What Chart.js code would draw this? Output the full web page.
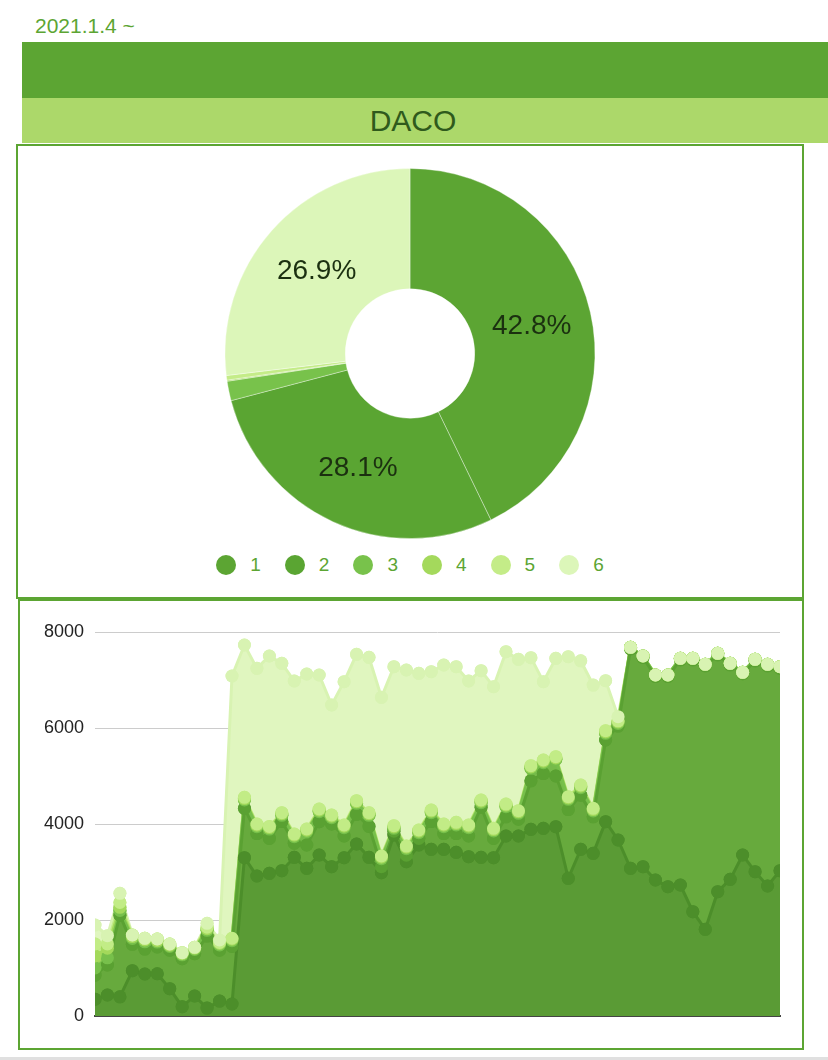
<!DOCTYPE html>
<html>
<head>
<meta charset="utf-8">
<script src="https://cdn.jsdelivr.net/npm/chart.js@4.4.1/dist/chart.umd.min.js"></script>
<style>
  body { margin: 0; background: #fff; font-family: "Liberation Sans", Arial, sans-serif; }
  #page { position: relative; width: 828px; height: 1060px; overflow: hidden; }
  #since { position: absolute; left: 35px; top: 14px; font-size: 21px; line-height: 24px; color: #5ca533; }
  #barTop { position: absolute; left: 22px; top: 42px; width: 806px; height: 56px; background: #5ca533; }
  #barTitle { position: absolute; left: 22px; top: 98px; width: 806px; height: 45px; padding-right: 24px; box-sizing: border-box;
              background: #acd86a; color: #2f5a1c; font-size: 30px; line-height: 45px; text-align: center; }
  .card { position: absolute; border: 2px solid #5ca533; box-sizing: border-box; }
  #pieCard { left: 16px; top: 144px; width: 788px; height: 455px; }
  #lineCard { left: 18px; top: 599px; width: 786px; height: 451px; }
  #pieWrap { position: absolute; left: 0; top: 22px; width: 784px; height: 371px; }
  #lineWrap { position: absolute; left: 0; top: 0; width: 782px; height: 447px; }
  #pieLegend { position: absolute; left: 0; right: 0; top: 409px; height: 20px; display: flex; justify-content: center; gap: 24px; }
  #pieLegend .item { display: inline-flex; align-items: center; font-size: 19px; color: #5ca533; }
  #pieLegend .item i { display: inline-block; width: 20px; height: 20px; border-radius: 50%; margin-right: 14px; }
  #bottomRule { position: absolute; left: 0; top: 1057px; width: 828px; height: 3px; background: #e0e0e0; }
</style>
</head>
<body>
<div id="page">
  <div id="since">2021.1.4 ~</div>
  <div id="barTop"></div>
  <div id="barTitle">DACO</div>
  <div class="card" id="pieCard">
    <div id="pieWrap"><canvas id="pieChart"></canvas></div>
    <div id="pieLegend"></div>
  </div>
  <div class="card" id="lineCard">
    <div id="lineWrap"><canvas id="areaChart"></canvas></div>
  </div>
  <div id="bottomRule"></div>
</div>

<script>
// ---- data ----
const days = [
  "1/4","1/5","1/6","1/7","1/8","1/9","1/10","1/11","1/12","1/13","1/14","1/15","1/16","1/17",
  "1/18","1/19","1/20","1/21","1/22","1/23","1/24","1/25","1/26","1/27","1/28","1/29","1/30","1/31",
  "2/1","2/2","2/3","2/4","2/5","2/6","2/7","2/8","2/9","2/10","2/11","2/12","2/13","2/14",
  "2/15","2/16","2/17","2/18","2/19","2/20","2/21","2/22","2/23","2/24","2/25","2/26","2/27","2/28"
];
const seriesNames = ["1", "2", "3", "4", "5", "6"];

const s1 = [350, 437, 400, 944, 875, 880, 570, 194, 417, 165, 310, 250,
  3299, 2917, 2972, 3028, 3306, 3076, 3354, 3111, 3298, 3583, 3305, 2986, 3771, 3215, 3562, 3472,
  3472, 3409, 3319, 3305, 3298, 3750, 3750, 3889, 3910, 3944, 2868, 3472, 3389, 4048, 3667,
  3076, 3111, 2833, 2694, 2729, 2174, 1805, 2590, 2847, 3354, 3007, 2708, 3027];
const s2 = [500, 625, 1700, 550, 520, 560, 800, 1000, 880, 1500, 1060, 1200,
  1027, 883, 728, 1022, 294, 486, 694, 889, 452, 617, 645, 125, 79, 135, 138, 578,
  328, 391, 431, 1045, 402, 400, 350, 1011, 1140, 1056, 1432, 1128, 761, 1702, 2374,
  4574, 4359, 4241, 4380, 4692, 5247, 5491, 4935, 4470, 3776, 4393, 4588, 4220];
const s3 = [150, 150, 100, 120, 150, 100, 80, 80, 90, 120, 110, 120,
  174, 145, 195, 131, 136, 279, 209, 132, 174, 231, 231, 167, 60, 136, 120, 186,
  145, 179, 174, 95, 154, 211, 123, 260, 228, 347, 214, 157, 121, 139, 54,
  30, 30, 30, 30, 30, 30, 30, 30, 30, 30, 30, 30, 30];
const s4 = [250, 200, 64, 40, 40, 30, 25, 25, 25, 35, 30, 30,
  30, 30, 30, 30, 30, 30, 30, 30, 30, 30, 30, 30, 30, 30, 30, 30,
  30, 30, 30, 30, 30, 30, 30, 30, 30, 30, 30, 30, 30, 30, 30,
  0, 0, 0, 0, 0, 0, 0, 0, 0, 0, 0, 0, 0];
const s5 = [250, 90, 100, 33, 33, 34, 25, 20, 18, 30, 23, 20,
  25, 25, 25, 25, 25, 25, 25, 25, 25, 25, 25, 25, 25, 25, 25, 25,
  25, 25, 25, 25, 25, 25, 25, 25, 25, 25, 25, 25, 25, 25, 25,
  0, 0, 0, 0, 0, 0, 0, 0, 0, 0, 0, 0, 0];
const s6 = [396, 172, 191, 0, 0, 0, 0, 0, 0, 80, 50, 5463,
  3174, 3243, 3550, 3111, 3188, 3229, 2792, 2292, 2986, 3048, 3236, 3306, 3312, 3667, 3264, 2882,
  3312, 3243, 3000, 2694, 2952, 3174, 3152, 2250, 1632, 2049, 2917, 2588, 2569, 1042, 86,
  0, 0, 0, 0, 0, 0, 0, 0, 0, 0, 0, 0, 0];

const pieShares = [42.8, 28.1, 1.7, 0.1, 0.4, 26.9];
const yTicks = [0, 2000, 4000, 6000, 8000];

// ---- colours ----
const sliceColors = ["#5ca533", "#5aa532", "#78c24b", "#a4d95c", "#c4ec88", "#dcf6b9"];
const areaFills   = ["#5a9b35", "#67aa3d", "#76bb4a", "#9fd35d", "#bfe986", "#e0f6bf"];
const lineColors  = ["#4c8e2a", "#5aa132", "#77c04b", "#a3d95b", "#c2ec86", "#d8f3b2"];

Chart.defaults.font.family = '"Liberation Sans", Arial, sans-serif';

// percent text in the middle of the big slices
const pieLabels = {
  id: "pieLabels",
  afterDatasetsDraw(chart) {
    const ctx = chart.ctx;
    const values = chart.data.datasets[0].data;
    ctx.save();
    ctx.font = '28px "Liberation Sans", Arial, sans-serif';
    ctx.fillStyle = "#1b3010";
    ctx.textAlign = "center";
    ctx.textBaseline = "middle";
    chart.getDatasetMeta(0).data.forEach((arc, i) => {
      if (values[i] < 5) return;
      const p = arc.tooltipPosition();
      ctx.fillText(values[i].toFixed(1) + "%", p.x, p.y + 1);
    });
    ctx.restore();
  }
};

// later series' points on top, like the original
const pointsOnTop = {
  id: "pointsOnTop",
  afterDatasetsDraw(chart) {
    const { ctx, chartArea } = chart;
    ctx.save();
    ctx.beginPath();
    ctx.rect(chartArea.left, chartArea.top, chartArea.width, chartArea.height);
    ctx.clip();
    chart.data.datasets.forEach((ds, i) => {
      chart.getDatasetMeta(i).data.forEach(pt => pt.draw(ctx, chartArea));
    });
    ctx.restore();
  }
};

// ---- doughnut ----
const pieChart = new Chart(document.getElementById("pieChart"), {
  type: "doughnut",
  data: {
    labels: seriesNames,
    datasets: [{
      data: pieShares,
      backgroundColor: sliceColors,
      borderColor: "rgba(255,255,255,0.35)",
      borderWidth: 1
    }]
  },
  options: {
    responsive: true,
    maintainAspectRatio: false,
    animation: false,
    events: [],
    cutout: "35%",
    layout: { padding: 0 },
    plugins: { legend: { display: false }, tooltip: { enabled: false } }
  },
  plugins: [pieLabels]
});

// legend under the doughnut
const legendBox = document.getElementById("pieLegend");
seriesNames.forEach((name, i) => {
  const item = document.createElement("span");
  item.className = "item";
  item.innerHTML = `<i style="background:${sliceColors[i]}"></i>${name}`;
  legendBox.appendChild(item);
});

// ---- stacked area ----
const allSeries = [s1, s2, s3, s4, s5, s6];

new Chart(document.getElementById("areaChart"), {
  type: "line",
  data: {
    labels: days,
    datasets: allSeries.map((values, i) => ({
      label: seriesNames[i],
      data: values,
      fill: i === 0 ? "origin" : "-1",
      backgroundColor: areaFills[i],
      borderColor: lineColors[i],
      borderWidth: 3,
      pointRadius: 6.5,
      pointBackgroundColor: lineColors[i],
      pointBorderColor: lineColors[i],
      pointBorderWidth: 0,
      tension: 0,
      clip: 0
    }))
  },
  options: {
    responsive: true,
    maintainAspectRatio: false,
    animation: false,
    events: [],
    layout: { padding: { left: 0, right: 22, top: 31, bottom: 32 } },
    plugins: { legend: { display: false }, tooltip: { enabled: false } },
    scales: {
      x: {
        grid: { display: false },
        ticks: { display: false },
        border: { display: true, color: "#444", width: 2 },
        afterFit: s => { s.height = 0; }
      },
      y: {
        stacked: true,
        min: yTicks[0],
        max: yTicks[yTicks.length - 1],
        ticks: {
          stepSize: yTicks[1] - yTicks[0],
          color: "#222",
          font: { size: 18 },
          padding: 11,
          callback: v => String(v)
        },
        grid: { color: "#cccccc", lineWidth: 1, drawTicks: false },
        border: { display: false },
        afterFit: s => { s.width = 75; }
      }
    }
  },
  plugins: [pointsOnTop]
});
</script>
</body>
</html>
